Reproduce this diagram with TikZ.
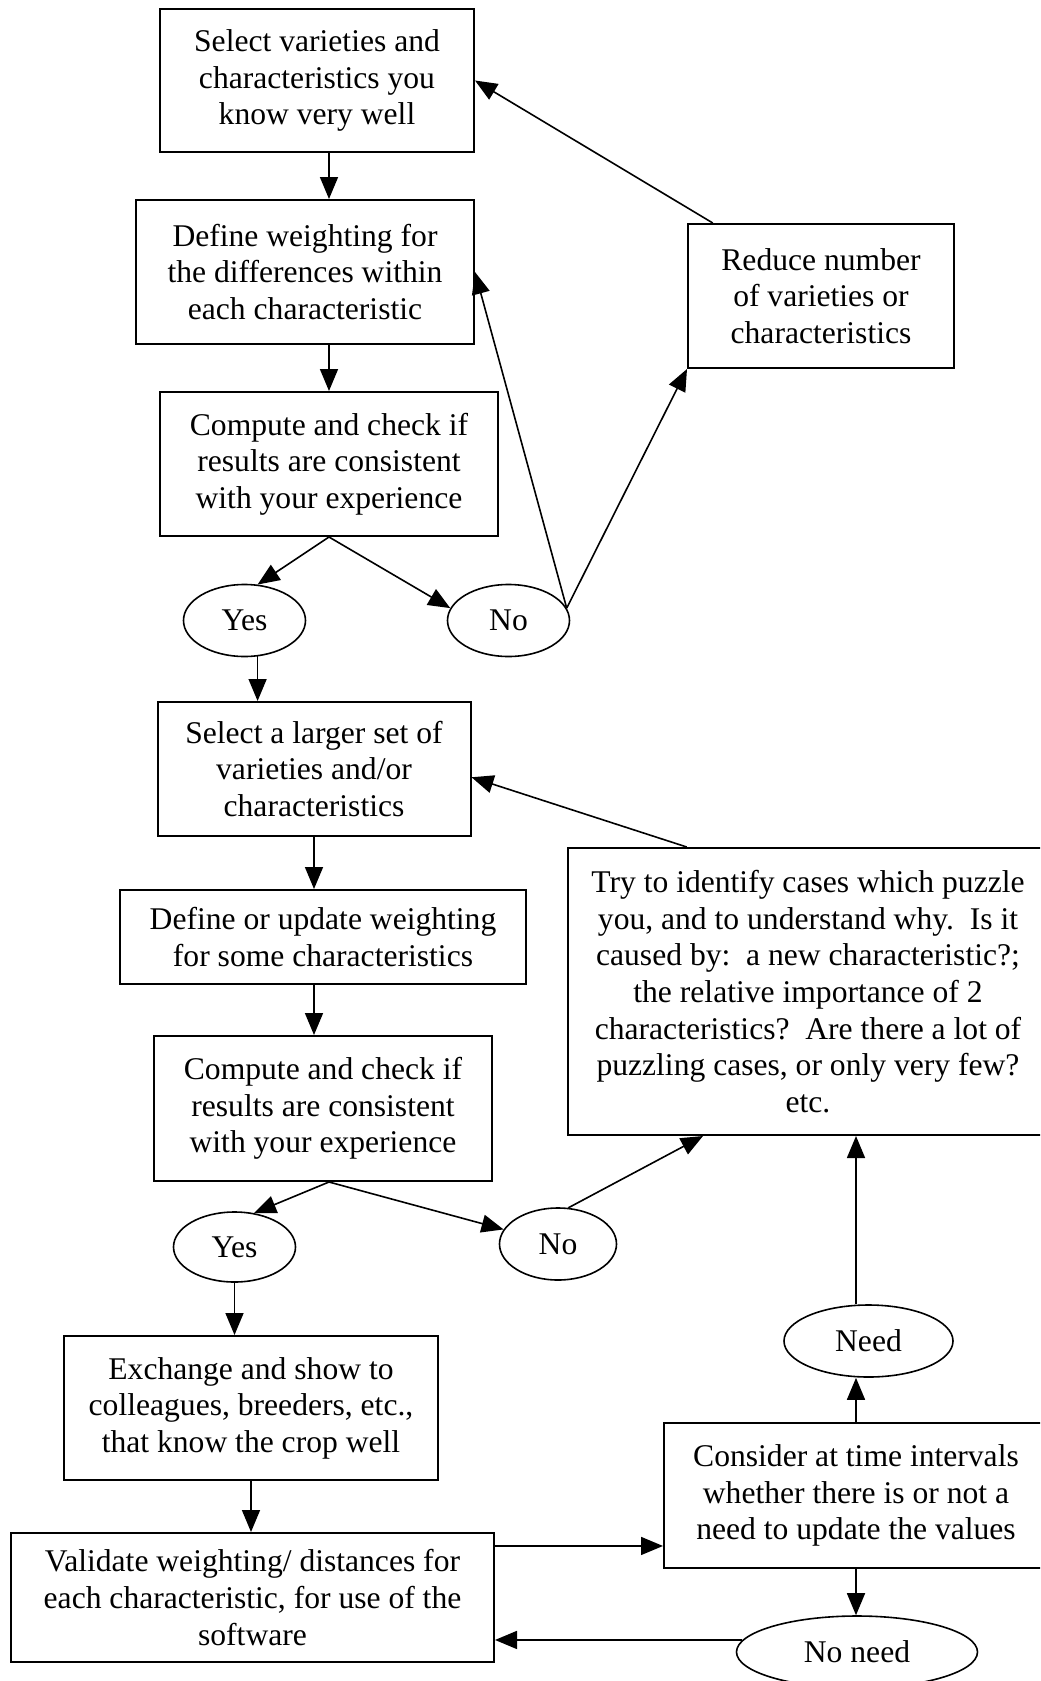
\documentclass[tikz,border=0pt]{standalone}
\usepackage{fontspec}
\setmainfont{Liberation Serif}
\usetikzlibrary{arrows.meta,shapes.geometric}

\tikzset{
  box/.style={draw, rectangle, align=center, inner sep=0pt, line width=1pt,
    font=\fontsize{15.8}{18.3}\selectfont},
  oval/.style={draw, ellipse, inner sep=0pt, line width=0.8pt,
    font=\fontsize{15.8}{18.3}\selectfont}
}

\begin{document}
\begin{tikzpicture}[x=0.5pt, y=-0.5pt, >={Triangle[length=11pt,width=9pt]}, line width=0.8pt]
  \clip (0,0) rectangle (1040,1681);

  % Erste Schleife
  \node[box, minimum width=157pt, minimum height=71.5pt] (sel) at (317,80.5)
    {Select varieties and\\characteristics you\\know very well};
  \node[box, minimum width=169pt, minimum height=72pt] (wgt) at (305,272)
    {Define weighting for\\the differences within\\each characteristic};
  \node[box, minimum width=169pt, minimum height=72pt] (cmp) at (329,464)
    {Compute and check if\\results are consistent\\with your experience};
  \node[oval, minimum width=61pt, minimum height=36pt] (yes1) at (244.5,620.5) {Yes};
  \node[oval, minimum width=61pt, minimum height=36pt] (no1) at (508.5,620.5) {No};
  \node[box, minimum width=133pt, minimum height=72pt] (reduce) at (821,296)
    {Reduce number\\of varieties or\\characteristics};

  % Zweite Schleife
  \node[box, minimum width=156.5pt, minimum height=67pt] (larger) at (314,769)
    {Select a larger set of\\varieties and/or\\characteristics};
  \node[box, minimum width=203pt, minimum height=47pt] (upd) at (323,937)
    {Define or update weighting\\for some characteristics};
  \node[box, minimum width=169pt, minimum height=72.5pt] (cmp2) at (323,1108.5)
    {Compute and check if\\results are consistent\\with your experience};
  \node[oval, minimum width=61pt, minimum height=35pt] (yes2) at (234.5,1247) {Yes};
  \node[oval, minimum width=58.5pt, minimum height=36pt] (no2) at (558,1244) {No};
  \node[box, minimum width=240pt, minimum height=143.5pt] (try) at (808,991.5)
    {Try to identify cases which puzzle\\you, and to understand why.\ \ Is it\\
     caused by:\ \ a new characteristic?;\\the relative importance of 2\\
     characteristics?\ \ Are there a lot of\\puzzling cases, or only very few?\\etc.};

  % Validierung
  \node[box, minimum width=187pt, minimum height=72pt] (exch) at (251,1408)
    {Exchange and show to\\colleagues, breeders, etc.,\\that know the crop well};
  \node[box, minimum width=241.5pt, minimum height=64.5pt] (val) at (252.5,1597.5)
    {Validate weighting/ distances for\\each characteristic, for use of the\\software};
  \node[box, minimum width=192pt, minimum height=72.5pt] (cons) at (856,1495.5)
    {Consider at time intervals\\whether there is or not a\\need to update the values};
  \node[oval, minimum width=84.5pt, minimum height=36pt] (need) at (868.5,1341) {Need};
  \node[oval, minimum width=120.5pt, minimum height=36pt] (noneed) at (857,1652) {No need};

  % Pfeile
  \draw[->] (sel.south -| cmp.north) -- (wgt.north -| cmp.north);
  \draw[->] (wgt.south -| cmp.north) -- (cmp.north);
  \draw[->] (cmp.south) -- (yes1.70);
  \draw[->] (cmp.south) -- (no1.168);
  \draw[->] (no1.12) -- (wgt.east);
  \draw[->] (no1.12) -- (reduce.south west);
  \draw[->] (reduce.146) -- (sel.east);
  \draw[->] (yes1.-70) -- (yes1.-70 |- larger.north);

  \draw[->] (larger.south) -- (larger.south |- upd.north);
  \draw[->] (upd.south -| larger.south) -- (cmp2.north -| larger.south);
  \draw[->] (cmp2.south -| cmp.south) -- (yes2.60);
  \draw[->] (cmp2.south -| cmp.south) -- (no2.165);
  \draw[->] (no2.74) -- (try.234);
  \draw[->] (try.130) -- (larger.-3);

  \draw[->] (yes2.south) -- (yes2.south |- exch.north);
  \draw[->] (exch.south) -- (val.north -| exch.south);
  \draw[->] (val.12.7) -- (val.12.7 -| cons.west);
  \draw[->] (cons.north) -- (need.south -| cons.north);
  \draw[->] (need.north -| cons.north) -- (try.south -| cons.north);
  \draw[->] (cons.south) -- (noneed.north -| cons.south);
  \draw[->] (noneed.174) -- (noneed.174 -| val.east);
\end{tikzpicture}
\end{document}
